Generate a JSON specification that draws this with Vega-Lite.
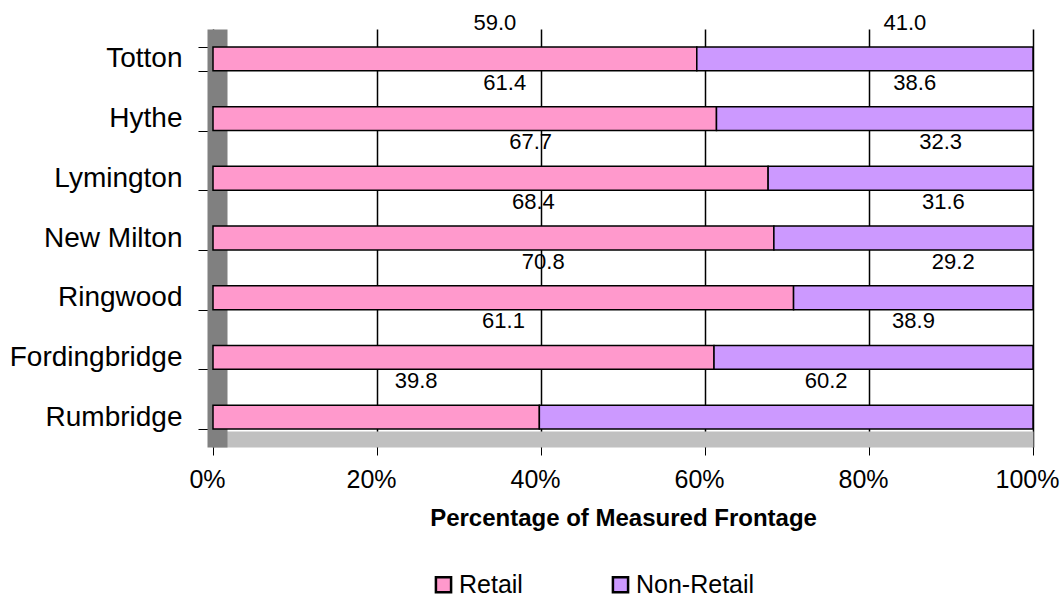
{
  "$schema": "https://vega.github.io/schema/vega-lite/v6.json",
  "width": 820,
  "height": 418,
  "autosize": {"type": "none"},
  "padding": {"left": 213, "top": 29, "right": 31, "bottom": 152},
  "background": "white",
  "config": {"font": "Liberation Sans", "view": {"stroke": null}},
  "data": {
    "values": [
      {"town": "Totton", "category": "Retail", "value": 59.0},
      {"town": "Totton", "category": "Non-Retail", "value": 41.0},
      {"town": "Hythe", "category": "Retail", "value": 61.4},
      {"town": "Hythe", "category": "Non-Retail", "value": 38.6},
      {"town": "Lymington", "category": "Retail", "value": 67.7},
      {"town": "Lymington", "category": "Non-Retail", "value": 32.3},
      {"town": "New Milton", "category": "Retail", "value": 68.4},
      {"town": "New Milton", "category": "Non-Retail", "value": 31.6},
      {"town": "Ringwood", "category": "Retail", "value": 70.8},
      {"town": "Ringwood", "category": "Non-Retail", "value": 29.2},
      {"town": "Fordingbridge", "category": "Retail", "value": 61.1},
      {"town": "Fordingbridge", "category": "Non-Retail", "value": 38.9},
      {"town": "Rumbridge", "category": "Retail", "value": 39.8},
      {"town": "Rumbridge", "category": "Non-Retail", "value": 60.2}
    ]
  },
  "encoding": {
    "y": {
      "field": "town",
      "type": "nominal",
      "sort": null,
      "scale": {"paddingInner": 0.6, "paddingOuter": 0.3},
      "axis": {
        "title": null,
        "labelFontSize": 28,
        "labelColor": "black",
        "tickBand": "extent",
        "tickSize": 19,
        "tickColor": "black",
        "labelPadding": 16,
        "offset": -4,
        "domainColor": "#808080",
        "domainWidth": 20,
        "grid": false
      }
    },
    "order": {"field": "category", "sort": "descending"}
  },
  "layer": [
    {
      "mark": {"type": "bar", "stroke": "black", "strokeWidth": 1.5},
      "encoding": {
        "x": {
          "field": "value",
          "type": "quantitative",
          "stack": "normalize",
          "axis": {
            "title": "Percentage of Measured Frontage",
            "titleFontSize": 24,
            "titleFontWeight": "bold",
            "titleColor": "black",
            "values": [0, 0.2, 0.4, 0.6, 0.8, 1],
            "format": ".0%",
            "labelFontSize": 25,
            "labelColor": "black",
            "labelFlush": false,
            "labelOffset": -6,
            "tickSize": 16,
            "tickColor": "black",
            "offset": -8,
            "domainColor": "#C0C0C0",
            "domainWidth": 16,
            "grid": true,
            "gridColor": "black",
            "gridWidth": 1.5,
            "labelPadding": 12,
            "titlePadding": 14
          }
        },
        "color": {
          "field": "category",
          "type": "nominal",
          "scale": {"domain": ["Retail", "Non-Retail"], "range": ["#FF99CC", "#CC99FF"]},
          "legend": {
            "title": null,
            "orient": "none",
            "legendX": 218,
            "legendY": 543,
            "direction": "horizontal",
            "symbolType": "square",
            "symbolSize": 230,
            "symbolStrokeColor": "black",
            "symbolStrokeWidth": 2.5,
            "labelFontSize": 25,
            "labelColor": "black",
            "labelOffset": 3,
            "columnPadding": 84
          }
        }
      }
    },
    {
      "mark": {"type": "text", "fontSize": 22, "dy": -36, "dx": 40, "color": "black"},
      "encoding": {
        "x": {
          "field": "value",
          "type": "quantitative",
          "stack": "normalize",
          "bandPosition": 0.5,
          "title": "Percentage of Measured Frontage"
        },
        "detail": {"field": "category"},
        "text": {"field": "value", "type": "quantitative", "format": ".1f"}
      }
    }
  ]
}
